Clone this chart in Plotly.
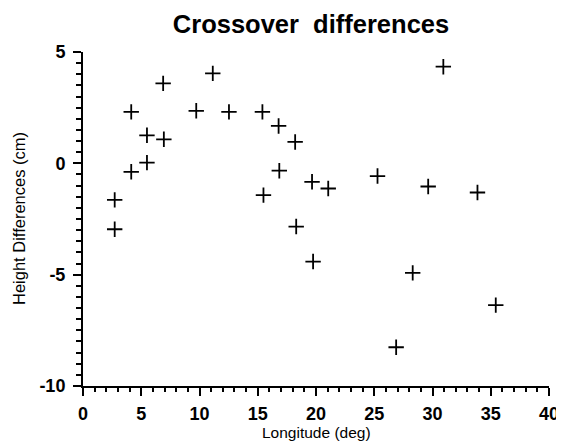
import plotly.graph_objects as go

longitude = [2.72, 2.72, 4.14, 4.14, 5.49, 5.49, 6.88, 6.94, 9.72, 11.14, 12.53, 15.40, 15.49,
             16.79, 16.85, 18.21, 18.30, 19.66, 19.75, 21.05, 25.28, 26.88, 28.30, 29.63,
             30.93, 33.86, 35.43]
height_diff = [-1.64, -2.96, 2.31, -0.38, 1.26, 0.03, 3.59, 1.08, 2.36, 4.04, 2.31, 2.31, -1.43,
               1.68, -0.33, 0.96, -2.84, -0.83, -4.41, -1.13, -0.57, -8.26, -4.92, -1.04,
               4.34, -1.31, -6.37]

x_ticks = [0, 5, 10, 15, 20, 25, 30, 35, 40]
y_ticks = [-10, -5, 0, 5]
y_tick_labels = ["-10", "-5", "0", "5"]

fig = go.Figure()
fig.add_trace(go.Scatter(
    x=longitude, y=height_diff, mode="markers",
    marker=dict(symbol="cross-thin", size=11, color="black",
                line=dict(color="black", width=1.8)),
    showlegend=False,
))

fam = "Liberation Sans, Arial, sans-serif"
tickfont = dict(family=fam, size=18, color="black", weight="bold")

# the page body adds an 8px offset, so the figure is sized to fill the window
W, H = 556, 433
fig.update_layout(
    width=W, height=H,
    margin=dict(l=75, r=15, t=44, b=55),
    paper_bgcolor="white", plot_bgcolor="white",
    title=dict(text="Crossover  differences", x=303/W, xref="container", xanchor="center",
               y=1 - 16.5/H, yref="container", yanchor="middle",
               font=dict(family=fam, size=25.5, color="black", weight="bold")),
    xaxis=dict(range=[0, 40], tickvals=x_ticks, showgrid=False, zeroline=False,
               showline=True, linewidth=2, linecolor="black", automargin=False,
               ticks="outside", ticklen=8, tickwidth=2, tickcolor="black",
               ticklabelstandoff=2,
               minor=dict(dtick=1, ticks="outside", ticklen=4, tickwidth=1.5, tickcolor="black", showgrid=False),
               tickfont=tickfont),
    yaxis=dict(range=[-10, 5], tickvals=y_ticks, ticktext=y_tick_labels, showgrid=False, zeroline=False,
               showline=True, linewidth=2, linecolor="black", automargin=False,
               ticks="outside", ticklen=8, tickwidth=2, tickcolor="black",
               ticklabelstandoff=4,
               minor=dict(dtick=0.5, ticks="outside", ticklen=5, tickwidth=1.5, tickcolor="black", showgrid=False),
               tickfont=tickfont),
    annotations=[
        dict(text="Longitude (deg)", xref="paper", yref="paper", x=0.5, y=0,
             xanchor="center", yanchor="middle", yshift=-46, showarrow=False,
             font=dict(family=fam, size=15.5, color="black")),
        dict(text="Height Differences (cm)", xref="paper", yref="paper", x=0, y=0.5,
             xanchor="center", yanchor="middle", xshift=-64, textangle=-90, showarrow=False,
             font=dict(family=fam, size=16.5, color="black")),
    ],
)

fig.write_html("out.html")
